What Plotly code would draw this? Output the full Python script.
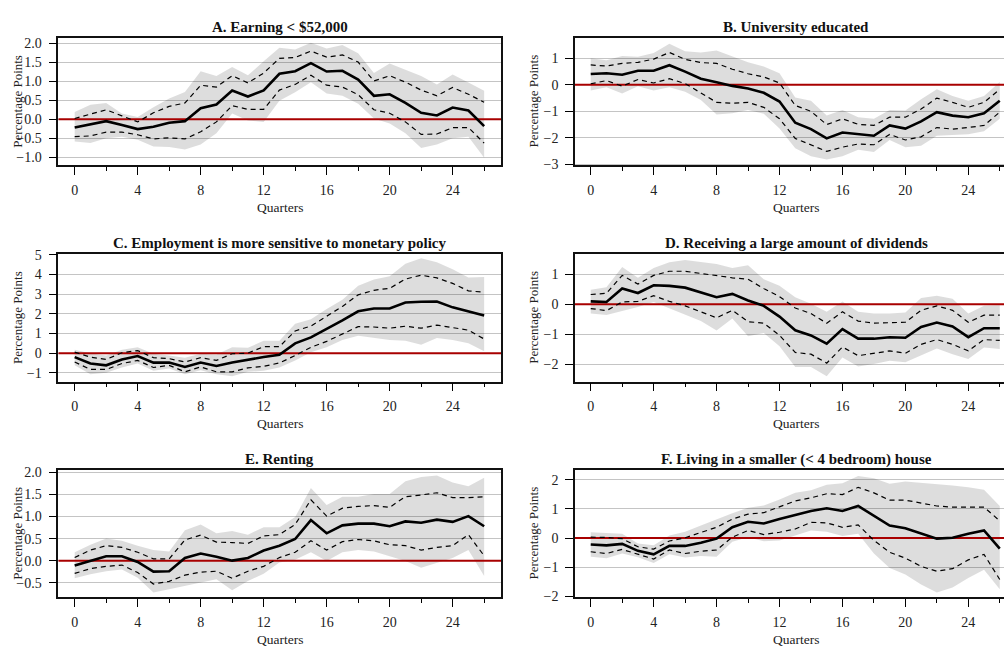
import plotly.graph_objects as go

quarters = list(range(27))

panel_titles = [
    "A. Earning < $52,000",
    "B. University educated",
    "C. Employment is more sensitive to monetary policy",
    "D. Receiving a large amount of dividends",
    "E. Renting",
    "F. Living in a smaller (< 4 bedroom) house",
]

# A. Earning < $52,000
a_mid = [-0.22, -0.14, -0.05, -0.15, -0.26, -0.2, -0.09, -0.05, 0.29, 0.39, 0.76, 0.6, 0.76, 1.2,
         1.27, 1.48, 1.26, 1.28, 1.05, 0.62, 0.66, 0.43, 0.17, 0.1, 0.31, 0.23, -0.18]
a_up = [0.02, 0.13, 0.25, 0.09, -0.07, 0.17, 0.34, 0.43, 0.9, 0.85, 1.15, 0.96, 1.22, 1.61,
        1.63, 1.8, 1.64, 1.7, 1.51, 1.01, 1.15, 0.98, 0.77, 0.62, 0.84, 0.66, 0.45]
a_lo = [-0.46, -0.44, -0.34, -0.34, -0.41, -0.52, -0.49, -0.52, -0.33, -0.07, 0.36, 0.26, 0.26, 0.77,
        0.92, 1.16, 0.9, 0.85, 0.65, 0.25, 0.16, -0.07, -0.4, -0.39, -0.22, -0.22, -0.63]
a_band_hi = [0.19, 0.38, 0.43, 0.15, 0.06, 0.32, 0.55, 0.72, 1.27, 1.14, 1.38, 1.16, 1.53, 1.89,
             1.84, 2.02, 1.87, 1.96, 1.74, 1.22, 1.47, 1.31, 1.14, 0.92, 1.18, 0.97, 0.75]
a_band_lo = [-0.59, -0.63, -0.5, -0.46, -0.54, -0.72, -0.73, -0.8, -0.67, -0.37, 0.15, -0.03, -0.07, 0.49,
             0.71, 0.98, 0.68, 0.62, 0.41, 0.02, -0.11, -0.37, -0.76, -0.67, -0.5, -0.46, -1.02]

# B. University educated
b_mid = [0.41, 0.44, 0.38, 0.53, 0.53, 0.74, 0.5, 0.23, 0.1, -0.04, -0.14, -0.3, -0.63, -1.43,
         -1.67, -2.02, -1.8, -1.86, -1.92, -1.53, -1.65, -1.38, -1.03, -1.16, -1.22, -1.07, -0.6]
b_up = [0.75, 0.71, 0.81, 0.85, 0.97, 1.22, 0.96, 0.84, 0.81, 0.59, 0.42, 0.3, 0.07, -0.78,
        -1.0, -1.5, -1.28, -1.49, -1.53, -1.22, -1.22, -0.91, -0.5, -0.66, -0.85, -0.66, -0.17]
b_lo = [0.04, 0.16, -0.05, 0.2, 0.07, 0.23, 0.05, -0.3, -0.66, -0.69, -0.66, -0.85, -1.28, -2.02,
        -2.26, -2.51, -2.35, -2.23, -2.26, -1.87, -2.08, -1.96, -1.61, -1.67, -1.61, -1.53, -1.03]
b_band_hi = [1.0, 0.93, 1.09, 1.06, 1.2, 1.55, 1.27, 1.22, 1.3, 1.06, 0.85, 0.69, 0.44, -0.48,
             -0.6, -1.16, -0.95, -1.22, -1.28, -0.95, -0.97, -0.54, -0.17, -0.42, -0.6, -0.42, 0.11]
b_band_lo = [-0.21, -0.09, -0.33, -0.05, -0.21, -0.09, -0.26, -0.57, -1.12, -1.07, -0.95, -1.09, -1.65, -2.39,
             -2.69, -2.82, -2.69, -2.45, -2.53, -2.08, -2.35, -2.3, -1.92, -1.89, -1.86, -1.75, -1.28]

# C. Employment is more sensitive to monetary policy
c_mid = [-0.2, -0.53, -0.62, -0.32, -0.15, -0.48, -0.48, -0.7, -0.48, -0.65, -0.48, -0.33, -0.2, -0.08,
         0.5, 0.8, 1.22, 1.67, 2.13, 2.27, 2.27, 2.58, 2.62, 2.63, 2.33, 2.13, 1.92]
c_up = [0.05, -0.2, -0.32, 0.02, 0.13, -0.23, -0.28, -0.45, -0.23, -0.37, -0.03, 0.0, 0.33, 0.33,
        1.13, 1.38, 1.88, 2.38, 2.97, 3.2, 3.3, 3.77, 3.97, 3.83, 3.55, 3.17, 3.1]
c_lo = [-0.45, -0.83, -0.83, -0.53, -0.37, -0.73, -0.62, -0.95, -0.7, -0.95, -0.95, -0.75, -0.67, -0.5,
        -0.12, 0.3, 0.6, 0.97, 1.35, 1.33, 1.27, 1.37, 1.27, 1.43, 1.3, 1.17, 0.72]
c_band_hi = [0.17, 0.0, -0.12, 0.17, 0.3, -0.03, -0.12, -0.23, -0.03, -0.07, 0.3, 0.27, 0.63, 0.63,
             1.5, 1.72, 2.25, 2.72, 3.43, 3.75, 3.92, 4.55, 4.83, 4.63, 4.27, 3.85, 3.88]
c_band_lo = [-0.62, -1.07, -1.0, -0.73, -0.53, -0.9, -0.78, -1.08, -0.87, -1.08, -1.17, -0.95, -0.9, -0.73,
             -0.37, 0.05, 0.3, 0.67, 0.88, 0.77, 0.67, 0.63, 0.43, 0.77, 0.67, 0.5, 0.1]

# D. Receiving a large amount of dividends
d_mid = [0.1, 0.08, 0.53, 0.38, 0.64, 0.62, 0.56, 0.4, 0.24, 0.35, 0.13, -0.05, -0.41, -0.87,
         -1.04, -1.32, -0.83, -1.15, -1.15, -1.1, -1.12, -0.76, -0.61, -0.74, -1.1, -0.8, -0.8]
d_up = [0.33, 0.37, 0.97, 0.68, 0.97, 1.11, 1.11, 1.04, 0.95, 0.89, 0.84, 0.53, 0.26, -0.12,
        -0.31, -0.63, -0.25, -0.56, -0.63, -0.61, -0.6, -0.2, -0.05, -0.2, -0.6, -0.36, -0.36]
d_lo = [-0.14, -0.21, 0.08, 0.1, 0.29, 0.1, -0.05, -0.25, -0.45, -0.2, -0.58, -0.63, -1.04, -1.61,
        -1.67, -1.97, -1.43, -1.72, -1.65, -1.56, -1.64, -1.34, -1.18, -1.34, -1.56, -1.18, -1.21]
d_band_hi = [0.49, 0.57, 1.25, 0.89, 1.22, 1.41, 1.49, 1.42, 1.35, 1.22, 1.31, 0.84, 0.62, 0.24,
             0.02, -0.25, 0.1, -0.25, -0.31, -0.31, -0.27, 0.21, 0.29, 0.19, -0.31, -0.05, -0.03]
d_band_lo = [-0.31, -0.36, -0.22, -0.09, 0.08, -0.14, -0.34, -0.56, -0.88, -0.47, -1.07, -0.96, -1.4, -2.1,
             -2.1, -2.41, -1.78, -2.08, -2.0, -1.89, -1.94, -1.72, -1.48, -1.67, -1.83, -1.45, -1.5]

# E. Renting
e_mid = [-0.11, -0.01, 0.1, 0.1, -0.03, -0.25, -0.24, 0.06, 0.16, 0.09, 0.0, 0.06, 0.23, 0.34,
         0.49, 0.92, 0.62, 0.8, 0.84, 0.84, 0.78, 0.89, 0.86, 0.93, 0.88, 1.01, 0.78]
e_up = [0.07, 0.24, 0.34, 0.3, 0.19, 0.04, 0.04, 0.47, 0.58, 0.42, 0.41, 0.39, 0.56, 0.59,
        0.82, 1.38, 1.01, 1.19, 1.23, 1.25, 1.21, 1.45, 1.49, 1.54, 1.43, 1.43, 1.45]
e_lo = [-0.29, -0.18, -0.13, -0.1, -0.27, -0.53, -0.47, -0.33, -0.26, -0.24, -0.4, -0.24, -0.13, 0.07,
        0.19, 0.45, 0.24, 0.43, 0.48, 0.45, 0.36, 0.34, 0.24, 0.3, 0.34, 0.59, 0.11]
e_band_hi = [0.19, 0.36, 0.5, 0.45, 0.34, 0.24, 0.21, 0.69, 0.82, 0.62, 0.67, 0.59, 0.76, 0.76,
             0.99, 1.65, 1.26, 1.45, 1.45, 1.51, 1.51, 1.8, 1.9, 1.93, 1.77, 1.69, 1.88]
e_band_lo = [-0.4, -0.31, -0.24, -0.2, -0.39, -0.72, -0.65, -0.57, -0.5, -0.42, -0.67, -0.46, -0.3, -0.04,
             0.02, 0.19, -0.01, 0.19, 0.24, 0.21, 0.1, -0.01, -0.16, -0.05, 0.06, 0.24, -0.35]

# F. Living in a smaller (< 4 bedroom) house
f_mid = [-0.22, -0.25, -0.2, -0.44, -0.56, -0.27, -0.27, -0.16, -0.02, 0.37, 0.56, 0.5, 0.65, 0.78,
         0.93, 1.02, 0.93, 1.1, 0.76, 0.43, 0.34, 0.15, -0.02, 0.01, 0.15, 0.26, -0.36]
f_up = [0.03, 0.02, -0.02, -0.3, -0.38, -0.1, 0.01, 0.18, 0.37, 0.65, 0.82, 0.87, 1.08, 1.27,
        1.38, 1.52, 1.49, 1.74, 1.55, 1.3, 1.3, 1.19, 1.1, 1.06, 1.06, 1.06, 0.59]
f_lo = [-0.47, -0.53, -0.39, -0.55, -0.72, -0.41, -0.53, -0.45, -0.41, 0.03, 0.26, 0.12, 0.2, 0.31,
        0.54, 0.52, 0.37, 0.45, -0.08, -0.49, -0.69, -0.97, -1.14, -1.05, -0.75, -0.56, -1.42]
f_band_hi = [0.2, 0.18, 0.15, -0.19, -0.25, 0.09, 0.22, 0.43, 0.65, 0.85, 1.04, 1.12, 1.32, 1.55,
             1.64, 1.83, 1.88, 2.13, 2.05, 1.86, 1.94, 1.9, 1.86, 1.8, 1.74, 1.66, 1.1]
f_band_lo = [-0.64, -0.69, -0.53, -0.66, -0.86, -0.56, -0.67, -0.62, -0.64, -0.13, 0.03, -0.11, -0.08, 0.09,
             0.26, 0.22, 0.07, 0.15, -0.53, -1.03, -1.25, -1.59, -1.87, -1.7, -1.37, -1.09, -1.76]

y_ranges = [[-1.22, 2.155], [-3.04, 1.78], [-1.45, 5.05], [-2.59, 1.69], [-0.83, 2.06], [-2.03, 2.34]]
y_dticks = [0.5, 1, 1, 1, 0.5, 1]
y_formats = [".1f", "d", "d", "d", ".1f", "d"]

series = [
    (a_mid, a_up, a_lo, a_band_hi, a_band_lo),
    (b_mid, b_up, b_lo, b_band_hi, b_band_lo),
    (c_mid, c_up, c_lo, c_band_hi, c_band_lo),
    (d_mid, d_up, d_lo, d_band_hi, d_band_lo),
    (e_mid, e_up, e_lo, e_band_hi, e_band_lo),
    (f_mid, f_up, f_lo, f_band_hi, f_band_lo),
]

W, H = 1004, 650
col_domains = [[58.3 / W, 501 / W], [575 / W, 1.0]]
col_xranges = [[-1.04, 27.07], [-1.0, 26.27]]
row_px = [(32.3, 162.7), (253.0, 383.3), (473.3, 603.3)]
row_domains = [[1 - b / H, 1 - t / H] for t, b in row_px]

SERIF = "Liberation Serif"
BAND = "rgba(0,0,0,0.135)"
ZERO = "#a80000"

fig = go.Figure()
annotations = []

for i, (mid, up, lo, bhi, blo) in enumerate(series):
    r, c = divmod(i, 2)
    n = i + 1
    xa = "x" if n == 1 else f"x{n}"
    ya = "y" if n == 1 else f"y{n}"
    xr = col_xranges[c]

    # confidence band
    fig.add_trace(go.Scatter(x=quarters, y=blo, xaxis=xa, yaxis=ya, mode="lines",
                             line=dict(width=0, color=BAND), hoverinfo="skip", showlegend=False))
    fig.add_trace(go.Scatter(x=quarters, y=bhi, xaxis=xa, yaxis=ya, mode="lines",
                             line=dict(width=0, color=BAND), fill="tonexty", fillcolor=BAND,
                             hoverinfo="skip", showlegend=False))
    # zero reference
    fig.add_trace(go.Scatter(x=xr, y=[0, 0], xaxis=xa, yaxis=ya, mode="lines",
                             line=dict(color=ZERO, width=2), hoverinfo="skip", showlegend=False))
    # dashed bounds
    for bound in (up, lo):
        fig.add_trace(go.Scatter(x=quarters, y=bound, xaxis=xa, yaxis=ya, mode="lines",
                                 line=dict(color="black", width=1.2, dash="5px,4px"),
                                 showlegend=False))
    # point estimate
    fig.add_trace(go.Scatter(x=quarters, y=mid, xaxis=xa, yaxis=ya, mode="lines",
                             line=dict(color="black", width=2.6), showlegend=False))

    xkey = "xaxis" if n == 1 else f"xaxis{n}"
    ykey = "yaxis" if n == 1 else f"yaxis{n}"
    fig.layout[xkey] = dict(
        domain=col_domains[c], anchor=ya, range=xr, tick0=0, dtick=4,
        ticks="outside", ticklen=8, tickwidth=1.3, tickcolor="black",
        minor=dict(tick0=0, dtick=2, ticks="outside", ticklen=4, tickwidth=1.1,
                   tickcolor="black", showgrid=False),
        showline=True, linecolor="#111111", linewidth=1.6, mirror=True,
        showgrid=False, zeroline=False, ticklabelstandoff=3,
        tickfont=dict(family=SERIF, size=14, color="#222222"),
    )
    fig.layout[ykey] = dict(
        domain=row_domains[r], anchor=xa, range=y_ranges[i], tick0=0, dtick=y_dticks[i],
        tickformat=y_formats[i], ticks="outside", ticklen=8, tickwidth=1.3, tickcolor="black",
        showline=True, linecolor="#111111", linewidth=1.6, mirror=(c == 0),
        showgrid=True, gridcolor="#c4c4c4", gridwidth=1.4, zeroline=False,
        ticklabelstandoff=4,
        tickfont=dict(family=SERIF, size=14, color="#222222"),
    )

    x0, x1 = col_domains[c]
    y0, y1 = row_domains[r]
    px_left = x0 * W
    px_right = min(x0 * W + 442.7, W + 14)
    centre = ((px_left + px_right) / 2) / W
    annotations.append(dict(text=f"<b>{panel_titles[i]}</b>", x=centre, y=y1, xref="paper",
                            yref="paper", xanchor="center", yanchor="middle", yshift=10.5,
                            showarrow=False, font=dict(family=SERIF, size=15, color="#111111")))
    annotations.append(dict(text="Percentage Points", x=x0, y=(y0 + y1) / 2, xref="paper",
                            yref="paper", xanchor="center", yanchor="middle", xshift=-41,
                            textangle=-90, showarrow=False,
                            font=dict(family=SERIF, size=13, color="#222222")))
    annotations.append(dict(text="Quarters", x=centre, y=y0, xref="paper", yref="paper",
                            xanchor="center", yanchor="middle", yshift=-42, showarrow=False,
                            font=dict(family=SERIF, size=13.5, color="#222222")))

fig.update_layout(
    width=W, height=H, margin=dict(l=0, r=0, t=0, b=0),
    paper_bgcolor="white", plot_bgcolor="white",
    annotations=annotations, showlegend=False,
)

fig.write_html("out.html")
